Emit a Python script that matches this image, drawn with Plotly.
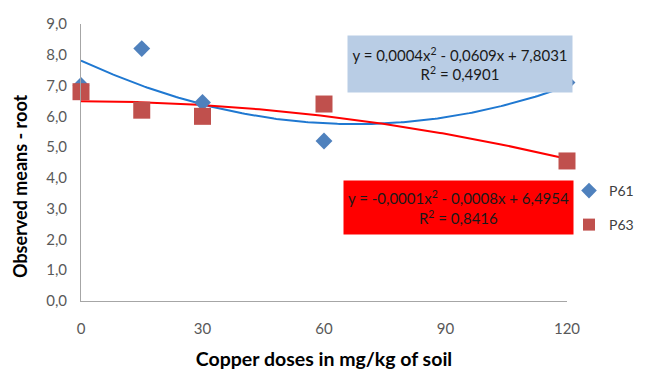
import numpy as np
import plotly.graph_objects as go

doses = [0, 15, 30, 60, 120]
p61 = [7.0, 8.2, 6.45, 5.2, 7.1]
p63 = [6.8, 6.2, 6.0, 6.4, 4.55]
x_ticks = [0, 30, 60, 90, 120]
y_ticks = [0, 1, 2, 3, 4, 5, 6, 7, 8, 9]

eq61 = "y = 0,0004x<sup>2</sup> - 0,0609x + 7,8031<br>R<sup>2</sup> = 0,4901"
eq63 = "y = -0,0001x<sup>2</sup> - 0,0008x + 6,4954<br>R<sup>2</sup> = 0,8416"

FONT = "Lato"
OFF = 8  # page body margin
W, H = 646 - OFF, 370 - OFF
X0, X1, Y0, Y1 = 81, 567, 301, 24  # plot area in reference pixels
L, T = X0 - OFF, Y1 - OFF
pw, ph = X1 - X0, Y0 - Y1
R = W - L - pw
B = H - T - ph

xs = np.linspace(0, 120, 200)
c61 = np.polyfit(doses, p61, 2)
c63 = np.polyfit(doses, p63, 2)

fig = go.Figure()
fig.add_trace(go.Scatter(x=xs, y=np.polyval(c61, xs), mode="lines",
                         line=dict(color="#1F78D1", width=2), showlegend=False, hoverinfo="skip"))
fig.add_trace(go.Scatter(x=xs, y=np.polyval(c63, xs), mode="lines",
                         line=dict(color="#FF0000", width=2), showlegend=False, hoverinfo="skip"))
fig.add_trace(go.Scatter(x=doses, y=p61, mode="markers", name="P61", cliponaxis=False,
                         marker=dict(symbol="diamond", size=13, color="#4F81BD"), legend="legend"))
fig.add_trace(go.Scatter(x=doses, y=p63, mode="markers", name="P63", cliponaxis=False,
                         marker=dict(symbol="square", size=17, color="#C0504D"), legend="legend2"))


def px_to_x(px):
    return (px - X0) / pw * 120


def py_to_y(py):
    return (Y0 - py) / ph * 9


fig.add_annotation(x=px_to_x(460), y=py_to_y(64), xref="x", yref="y", text=eq61,
                   showarrow=False, bgcolor="#B9CDE5", width=224, height=56, borderpad=0,
                   font=dict(family=FONT, size=15, color="#1A1A1A"), align="center", valign="middle")
fig.add_annotation(x=px_to_x(458.5), y=py_to_y(207.5), xref="x", yref="y", text=eq63,
                   showarrow=False, bgcolor="#FF0000", width=229, height=53, borderpad=0,
                   font=dict(family=FONT, size=15, color="#1A1A1A"), align="center", valign="middle")

fig.add_annotation(x=(20 - X0) / pw, y=(Y0 - 186) / ph, xref="paper", yref="paper",
                   xanchor="center", yanchor="middle",
                   text="<b>Observed means - root</b>", textangle=-90, showarrow=False,
                   font=dict(family=FONT, size=18, color="#000000"))

fig.update_layout(
    width=W, height=H, margin=dict(l=L, r=R, t=T, b=B, autoexpand=False),
    paper_bgcolor="white", plot_bgcolor="white",
    separators=",.",
    font=dict(family=FONT, size=15, color="#595959"),
    xaxis=dict(range=[0, 120], tickvals=x_ticks, showgrid=False, zeroline=False, automargin=False,
               showline=True, linecolor="#A6A6A6", linewidth=1, ticks="",
               ticklabelstandoff=14, tickfont=dict(size=15),
               title=dict(text="<b>Copper doses in mg/kg of soil</b>",
                          font=dict(family=FONT, size=19.5, color="#000000"), standoff=18)),
    yaxis=dict(range=[0, 9], tickvals=y_ticks, tickformat=".1f", showgrid=False, zeroline=False,
               automargin=False,
               showline=True, linecolor="#A6A6A6", linewidth=1, ticks="",
               ticklabelstandoff=10, tickfont=dict(size=15)),
    legend=dict(x=(569 - X0) / pw, y=(Y0 - 191) / ph, xref="paper", yref="paper",
                xanchor="left", yanchor="middle", itemsizing="constant",
                font=dict(family=FONT, size=14, color="#404040"), itemwidth=30, bgcolor="rgba(0,0,0,0)"),
    legend2=dict(x=(569 - X0) / pw, y=(Y0 - 225) / ph, xref="paper", yref="paper",
                 xanchor="left", yanchor="middle", itemsizing="constant",
                 font=dict(family=FONT, size=14, color="#404040"), itemwidth=30, bgcolor="rgba(0,0,0,0)"),
)

fig.write_html("out.html")
